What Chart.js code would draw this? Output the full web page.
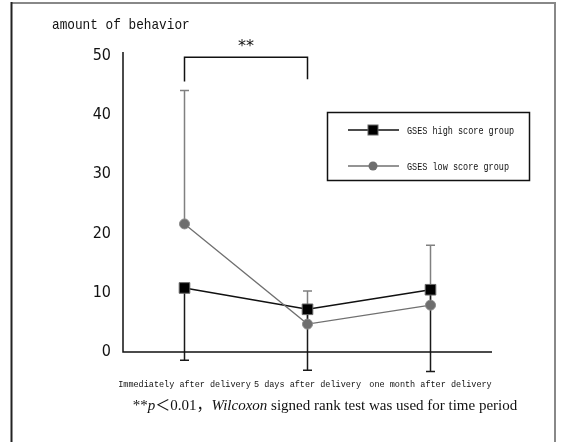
<!DOCTYPE html>
<html>
<head>
<meta charset="utf-8">
<script src="https://cdn.jsdelivr.net/npm/chart.js@4"></script>
<style>
  html, body { margin: 0; padding: 0; background: #fff; }
  canvas { display: block; }
</style>
</head>
<body>
<canvas id="chart" width="567" height="442"></canvas>
<script>
// time points
const periods = ['Immediately after delivery', '5 days after delivery', 'one month after delivery'];
const yTicks = [0, 10, 20, 30, 40, 50];

// GSES groups (means)
const highLabel = 'GSES high score group';
const highMean = [10.8, 7.2, 10.5];
const highSD = [12.2, 10.3, 13.8];   // drawn downwards

const lowLabel = 'GSES low score group';
const lowMean = [21.6, 4.7, 7.9];
const lowSD = [22.5, 5.6, 10.1];     // drawn upwards

const yTitle = 'amount of behavior';
const sigMark = '**';
const footnote = [
    ['**', false], ['p', true], ['＜0.01，', false], ['Wilcoxon', true],
    [' signed rank test was used for time period', false]
];

const monoFont = "'Liberation Mono', 'DejaVu Sans Mono', monospace";

// error bars under the lines
const errorBars = {
    id: 'errorBars',
    beforeDatasetsDraw(chart) {
        const ctx = chart.ctx;
        const xs = chart.scales.x, ys = chart.scales.y;
        const bar = (i, from, to, color) => {
            const x = xs.getPixelForValue(i);
            ctx.strokeStyle = color;
            ctx.lineWidth = 1.5;
            ctx.beginPath();
            ctx.moveTo(x, ys.getPixelForValue(from));
            ctx.lineTo(x, ys.getPixelForValue(to));
            ctx.moveTo(x - 4.5, ys.getPixelForValue(to));
            ctx.lineTo(x + 4.5, ys.getPixelForValue(to));
            ctx.stroke();
        };
        ctx.save();
        lowMean.forEach((m, i) => bar(i, m, m + lowSD[i], '#808080'));
        highMean.forEach((m, i) => bar(i, m, m - highSD[i], '#1a1a1a'));
        ctx.restore();
    }
};

// axes, bracket, legend, titles and frame
const decorations = {
    id: 'decorations',
    afterDraw(chart) {
        const ctx = chart.ctx;
        const xs = chart.scales.x, ys = chart.scales.y;
        ctx.save();

        // axes
        const x0 = xs.getPixelForValue(-0.5);
        const x1 = xs.getPixelForValue(2.5);
        const y0 = ys.getPixelForValue(0);
        ctx.strokeStyle = '#111';
        ctx.lineWidth = 1.5;
        ctx.beginPath();
        ctx.moveTo(x0, ys.getPixelForValue(50.6));
        ctx.lineTo(x0, y0);
        ctx.lineTo(x1, y0);
        ctx.stroke();

        // significance bracket
        const bl = xs.getPixelForValue(0), br = xs.getPixelForValue(1);
        ctx.lineWidth = 1.5;
        ctx.beginPath();
        ctx.moveTo(bl, ys.getPixelForValue(45.6));
        ctx.lineTo(bl, ys.getPixelForValue(49.7));
        ctx.lineTo(br, ys.getPixelForValue(49.7));
        ctx.lineTo(br, ys.getPixelForValue(46.0));
        ctx.stroke();
        ctx.fillStyle = '#111';
        ctx.font = "16px 'DejaVu Sans', sans-serif";
        ctx.textAlign = 'center';
        ctx.textBaseline = 'middle';
        ctx.fillText(sigMark, (bl + br) / 2, 47);

        // y title
        ctx.save();
        ctx.translate(52, 25);
        ctx.scale(0.85, 1);
        ctx.font = '15px ' + monoFont;
        ctx.textAlign = 'left';
        ctx.fillText(yTitle, 0, 0);
        ctx.restore();

        // legend
        ctx.lineWidth = 1.5;
        ctx.strokeStyle = '#111';
        ctx.strokeRect(327.5, 112.5, 202, 68);
        const rows = [
            { label: highLabel, y: 130, color: '#111', style: 'rect' },
            { label: lowLabel, y: 166, color: '#707070', style: 'circle' }
        ];
        rows.forEach(r => {
            ctx.strokeStyle = r.color;
            ctx.lineWidth = r.style === 'rect' ? 1.6 : 1.3;
            ctx.beginPath();
            ctx.moveTo(348, r.y);
            ctx.lineTo(399, r.y);
            ctx.stroke();
            if (r.style === 'rect') {
                ctx.fillStyle = '#000';
                ctx.fillRect(368, r.y - 5, 10, 10);
                ctx.strokeStyle = '#666';
                ctx.lineWidth = 1;
                ctx.strokeRect(368, r.y - 5, 10, 10);
            } else {
                ctx.fillStyle = '#6e6e6e';
                ctx.beginPath();
                ctx.arc(373, r.y, 4.5, 0, Math.PI * 2);
                ctx.fill();
            }
            ctx.fillStyle = '#111';
            ctx.save();
            ctx.translate(407, r.y + 1);
            ctx.scale(0.85, 1);
            ctx.font = '10px ' + monoFont;
            ctx.textAlign = 'left';
            ctx.textBaseline = 'middle';
            ctx.fillText(r.label, 0, 0);
            ctx.restore();
        });

        // footnote
        const fontFor = it => (it ? 'italic ' : '') + "15px 'Liberation Serif', 'Noto Sans CJK JP', serif";
        let total = 0;
        footnote.forEach(([t, it]) => { ctx.font = fontFor(it); total += ctx.measureText(t).width; });
        let fx = 325 - total / 2;
        ctx.textAlign = 'left';
        ctx.textBaseline = 'alphabetic';
        ctx.fillStyle = '#111';
        footnote.forEach(([t, it]) => {
            ctx.font = fontFor(it);
            ctx.fillText(t, fx, 410);
            fx += ctx.measureText(t).width;
        });

        // frame
        ctx.lineWidth = 2;
        ctx.strokeStyle = '#888';
        ctx.beginPath();
        ctx.moveTo(11, 3);
        ctx.lineTo(555, 3);
        ctx.lineTo(555, 442);
        ctx.stroke();
        ctx.strokeStyle = '#222';
        ctx.beginPath();
        ctx.moveTo(11.5, 2);
        ctx.lineTo(11.5, 442);
        ctx.stroke();

        ctx.restore();
    }
};

new Chart(document.getElementById('chart'), {
    type: 'scatter',
    data: {
        datasets: [
            {
                label: lowLabel,
                data: lowMean.map((v, i) => ({ x: i, y: v })),
                showLine: true,
                borderColor: '#707070',
                borderWidth: 1.3,
                pointStyle: 'circle',
                pointRadius: 5,
                pointBackgroundColor: '#6e6e6e',
                pointBorderColor: '#8a8a8a',
                pointBorderWidth: 1
            },
            {
                label: highLabel,
                data: highMean.map((v, i) => ({ x: i, y: v })),
                showLine: true,
                borderColor: '#111',
                borderWidth: 1.6,
                pointStyle: 'rect',
                pointRadius: 7.5,
                pointBackgroundColor: '#000',
                pointBorderColor: '#666',
                pointBorderWidth: 1
            }
        ]
    },
    options: {
        responsive: false,
        animation: false,
        devicePixelRatio: 1,
        layout: { padding: { top: 49.6, right: 75, left: 0, bottom: 0 } },
        plugins: {
            legend: { display: false },
            tooltip: { enabled: false }
        },
        scales: {
            x: {
                type: 'linear',
                min: -0.5,
                max: 2.5,
                grid: { display: false },
                border: { display: false },
                afterBuildTicks: s => { s.ticks = periods.map((p, i) => ({ value: i })); },
                afterFit: s => { s.height = 66.3; },
                ticks: {
                    padding: -4,
                    maxRotation: 0,
                    autoSkip: false,
                    color: '#111',
                    font: { family: monoFont, size: 8.5 },
                    callback: v => periods[v]
                }
            },
            y: {
                min: -4,
                max: 51,
                grid: { display: false },
                border: { display: false },
                afterBuildTicks: s => { s.ticks = yTicks.map(v => ({ value: v })); },
                afterFit: s => { s.width = 123; },
                ticks: {
                    padding: 4,
                    color: '#111',
                    font: { family: "'Liberation Sans Narrow', 'DejaVu Sans Condensed', sans-serif", size: 16 }
                }
            }
        }
    },
    plugins: [errorBars, decorations]
});
</script>
</body>
</html>
